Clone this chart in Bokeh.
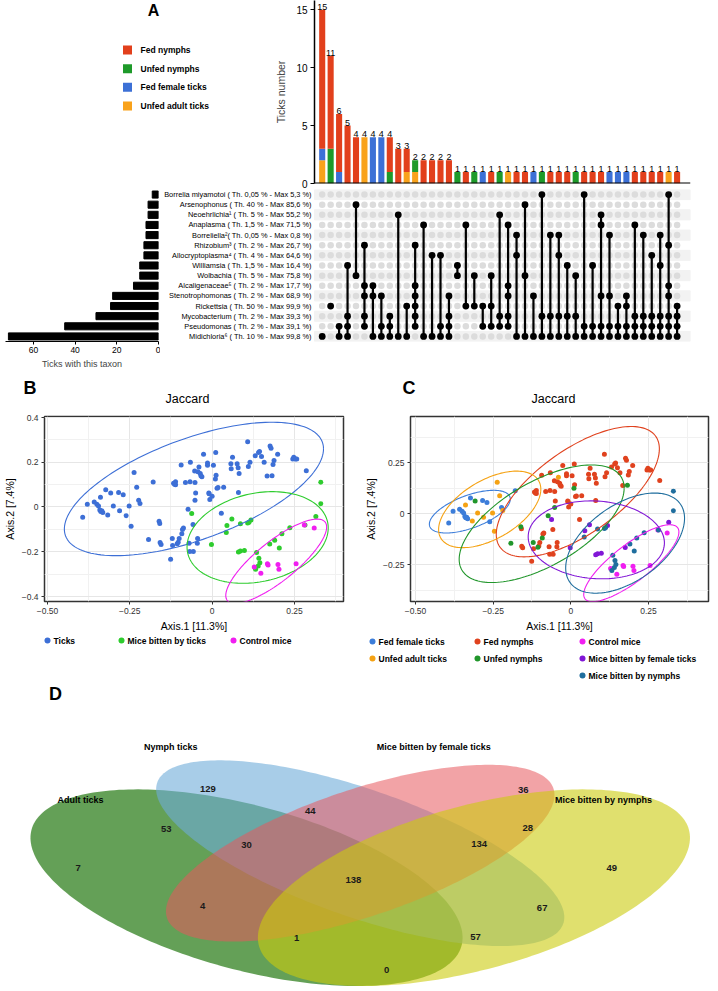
import numpy as np
from bokeh.plotting import figure
from bokeh.layouts import row, column
from bokeh.models import Range1d, FixedTicker, Span, ColumnDataSource
from bokeh.embed import file_html
from bokeh.resources import INLINE
from bokeh.core.properties import value

FONT = "Liberation Sans"

# ================= DATA =================
# ---- Panel A (UpSet) ----
legend_groups = ["Fed nymphs", "Unfed nymphs", "Fed female ticks", "Unfed adult ticks"]
legend_colors = ["#E2401C", "#1E9A2A", "#3C70D6", "#F9A21B"]

fed_nymphs   = [12, 8, 5, 5, 4, 0, 0, 0, 3, 3, 2, 0, 2, 2, 2, 2, 0, 1, 0, 0, 1, 0, 0, 1, 1, 0, 0, 1, 1, 1, 0, 1, 1, 1, 0, 0, 0, 1, 1, 1, 1, 0, 1]
unfed_nymphs = [0, 3, 0, 0, 0, 0, 0, 0, 1, 0, 0, 1, 0, 0, 0, 0, 1, 0, 1, 0, 0, 1, 0, 0, 0, 0, 1, 0, 0, 0, 1, 0, 0, 0, 0, 0, 0, 0, 0, 0, 0, 0, 0]
fed_female   = [1, 0, 1, 0, 0, 0, 4, 4, 0, 0, 0, 0, 0, 0, 0, 0, 0, 0, 0, 1, 0, 0, 0, 0, 0, 1, 0, 0, 0, 0, 0, 0, 0, 0, 1, 1, 1, 0, 0, 0, 0, 0, 0]
unfed_adult  = [2, 0, 0, 0, 0, 4, 0, 0, 0, 0, 1, 1, 0, 0, 0, 0, 0, 0, 0, 0, 0, 0, 1, 0, 0, 0, 0, 0, 0, 0, 0, 0, 0, 0, 0, 0, 0, 0, 0, 0, 0, 1, 0]

taxa = [
    "Borrelia miyamotoi ( Th. 0,05 % - Max 5,3 %)",
    "Arsenophonus ( Th. 40 % - Max 85,6 %)",
    "Neoehrlichia\u00b9 ( Th. 5 % - Max 55,2 %)",
    "Anaplasma ( Th. 1,5 % - Max 71,5 %)",
    "Borreliella\u00b2( Th. 0,05 % - Max 0,8 %)",
    "Rhizobium\u00b3 ( Th. 2 % - Max 26,7 %)",
    "Allocryptoplasma\u2074 ( Th. 4 % - Max 64,6 %)",
    "Williamsia ( Th. 1,5 % - Max 16,4 %)",
    "Wolbachia ( Th. 5 % - Max 75,8 %)",
    "Alcaligenaceae\u2075 ( Th. 2 % - Max 17,7 %)",
    "Stenotrophomonas ( Th. 2 % - Max 68,9 %)",
    "Rickettsia ( Th. 50 % - Max 99,9 %)",
    "Mycobacterium ( Th. 2 % - Max 39,3 %)",
    "Pseudomonas ( Th. 2 % - Max 39,1 %)",
    "Midichloria\u2076 ( Th. 10 % - Max 99,8 %)",
]
ticks_with_taxon = [3, 5, 5, 6, 6, 7, 7, 9, 9, 12, 22, 23, 30, 45, 72]

# taxa (row index, top = 0) present in each intersection column
intersections = [
    [14], [11], [13, 14], [7, 12, 13, 14], [1, 8], [5, 9, 10, 12, 13], [9, 10, 14], [10, 13, 14],
    [12, 13, 14], [2, 14], [11, 14], [5, 9, 10, 11, 12, 13], [3, 14], [6, 14], [6, 13, 14],
    [10, 12, 13, 14], [7, 8], [3, 11], [8, 11], [11, 13], [8, 11, 13], [2, 12, 13],
    [3, 9, 10, 12, 13], [4, 6, 14], [1, 8, 14], [10, 14], [0, 12, 14], [4, 12, 14],
    [4, 6, 12, 14], [7, 12, 14], [8, 12, 14], [0, 13, 14], [7, 13, 14], [2, 3, 10, 13, 14],
    [4, 10, 13, 14], [11, 13, 14], [10, 11, 13, 14], [3, 12, 13, 14], [4, 12, 13, 14],
    [6, 12, 13, 14], [4, 7, 12, 13, 14], [0, 5, 9, 10, 12, 13, 14], [11, 12, 13, 14],
]

# ---- Panels B / C (PCoA, Jaccard) ----
fed_female_x = [-0.393, -0.379, -0.358, -0.350, -0.345, -0.341, -0.338, -0.335, -0.332, -0.323, -0.284, -0.270, -0.261, -0.223, -0.179]
fed_female_y = [-0.046, 0.012, 0.022, 0.012, 0.004, -0.014, -0.020, -0.017, -0.025, 0.077, 0.065, 0.055, -0.039, 0.030, 0.112]

unfed_adult_x = [-0.339, -0.317, -0.300, -0.281, -0.252, -0.246, -0.237, -0.229, -0.219, -0.040]
unfed_adult_y = [0.043, -0.036, 0.004, -0.017, 0.004, -0.086, 0.154, 0.088, 0.016, 0.178]

unfed_nymphs_x = [-0.308, -0.193, -0.161, -0.121, -0.106, -0.092, -0.073, -0.052, 0.010, 0.182]
unfed_nymphs_y = [0.062, -0.145, -0.064, -0.141, -0.164, -0.119, -0.010, 0.030, 0.125, 0.139]

fed_nymphs_x = [-0.159, -0.158, -0.155, -0.126, -0.120, -0.117, -0.114, -0.111, -0.111, -0.103, -0.100, -0.094,
                -0.090, -0.087, -0.081, -0.070, -0.068, -0.067, -0.066, -0.058, -0.057, -0.053, -0.052, -0.050,
                -0.045, -0.044, -0.043, -0.036, -0.034, -0.031, -0.026, -0.014, -0.014, -0.010, -0.009, -0.007,
                0.000, 0.004, 0.012, 0.011, 0.015, 0.018, 0.028, 0.035, 0.057, 0.058, 0.062, 0.076, 0.079,
                0.080, 0.082, 0.108, 0.110, 0.115, 0.131, 0.141, 0.144, 0.150, 0.158, 0.167, 0.176, 0.179,
                0.185, 0.188, 0.199, 0.245, 0.248, 0.253, 0.257, 0.286]
fed_nymphs_y = [-0.074, -0.159, -0.167, -0.233, -0.172, 0.106, 0.101, 0.113, 0.099, -0.158, -0.141, 0.188,
                -0.100, -0.094, 0.109, -0.162, -0.199, 0.113, 0.200, -0.078, -0.199, 0.161, 0.109, 0.062,
                -0.162, -0.141, 0.157, 0.149, 0.139, 0.135, 0.236, 0.196, 0.186, 0.062, 0.059, 0.033,
                0.048, 0.186, 0.142, 0.243, 0.084, 0.087, -0.028, 0.088, 0.193, 0.171, 0.222, 0.193, 0.175,
                0.065, 0.149, 0.291, 0.181, 0.200, 0.229, 0.243, 0.248, 0.225, 0.200, 0.138, 0.272, 0.262,
                0.190, 0.207, 0.236, 0.214, 0.222, 0.214, 0.214, 0.162]

mice_female_x = [-0.062, -0.002, 0.045, 0.060, 0.118, 0.080, 0.086, 0.098, 0.175, 0.315]
mice_female_y = [-0.029, -0.167, -0.083, -0.054, -0.058, -0.201, -0.196, -0.194, -0.165, -0.042]

mice_nymphs_x = [0.043, 0.086, 0.108, 0.112, 0.135, 0.142, 0.145, 0.140, 0.132, 0.190, 0.204, 0.212, 0.236, 0.282, 0.330, 0.330]
mice_nymphs_y = [-0.114, -0.075, -0.072, -0.068, -0.203, -0.229, -0.249, -0.264, -0.278, -0.148, -0.183, -0.119, -0.093, -0.080, 0.014, 0.110]

control_mice_x = [0.128, 0.148, 0.168, 0.170, 0.200, 0.203, 0.255, 0.280, 0.310]
control_mice_y = [-0.268, -0.296, -0.254, -0.259, -0.257, -0.278, -0.254, -0.080, -0.094]

# ---- Panel D (Venn) ----
venn_sets = ["Adult ticks", "Nymph ticks", "Mice bitten by female ticks", "Mice bitten by nymphs"]
venn_counts = [7, 129, 36, 49, 53, 44, 28, 30, 134, 138, 4, 67, 1, 57, 0]

# ================= HELPERS =================
def blank(w, h, xr, yr, l=0, r=0, t=0, b=0, xaxis=None, yaxis=None):
    p = figure(width=w, height=h, x_range=xr, y_range=yr, output_backend="svg",
               toolbar_location=None, x_axis_location=xaxis, y_axis_location=yaxis,
               min_border_left=l, min_border_right=r, min_border_top=t, min_border_bottom=b)
    p.outline_line_color = None
    p.grid.visible = False
    p.background_fill_color = "white"
    p.border_fill_color = "white"
    return p


def txt(p, x, y, s, size, bold=False, align="left", baseline="middle", color="black"):
    p.text(x=x, y=y, text=s, text_font=value(FONT), text_font_size=size,
           text_font_style="bold" if bold else "normal", text_align=align,
           text_baseline=baseline, text_color=color)


def cov_trob(pts, nu=5, maxit=25, tol=0.01):
    n, d = pts.shape
    loc = pts.mean(axis=0)
    w = np.ones(n)
    X = pts - loc
    for _ in range(maxit):
        w0 = w
        X = pts - loc
        A = np.sqrt(w / w.sum())[:, None] * X
        _, sv, vt = np.linalg.svd(A, full_matrices=False)
        wX = X @ vt.T @ np.diag(1.0 / sv)
        Q = (wX ** 2).sum(axis=1)
        w = (nu + d) / (nu + Q)
        loc = (w[:, None] * pts).sum(axis=0) / w.sum()
        if np.all(np.abs(w - w0) < tol):
            break
    sw = np.sqrt(w)[:, None] * X
    return loc, sw.T @ sw / n


def conf_ellipse(x, y, level=0.95, segments=160):
    pts = np.column_stack([x, y]).astype(float)
    n = len(pts)
    center, shape = cov_trob(pts)
    dfd = n - 1
    fq = dfd / 2.0 * ((1 - level) ** (-2.0 / dfd) - 1)
    radius = np.sqrt(2 * fq)
    ang = np.linspace(0, 2 * np.pi, segments)
    circle = np.column_stack([np.cos(ang), np.sin(ang)])
    chol = np.linalg.cholesky(shape).T
    ell = center + radius * circle @ chol
    return list(ell[:, 0]), list(ell[:, 1])


def style_axis(ax, size="9px", color="#222222"):
    ax.major_label_text_font = FONT
    ax.major_label_text_font_size = size
    ax.major_label_text_color = color
    ax.axis_label_text_font = FONT
    ax.axis_label_text_font_style = "normal"
    ax.minor_tick_line_color = None


# ================= PANEL A =================
ncol = len(fed_nymphs)
cols = list(range(ncol))
XR_BAR = (-0.911, 43.586)

# legend + letter
legA = blank(270, 189, Range1d(0, 270), Range1d(189, 0))
txt(legA, [153], [10], ["A"], "16px", bold=True, align="center")
legA.scatter(x=[127] * 4, y=[51, 70.5, 89.7, 109], marker="square", size=9, color=legend_colors, line_color=None)
txt(legA, [140] * 4, [51, 70.5, 89.7, 109], legend_groups, "8.5px", bold=True)

# intersection size bar chart
barA = blank(448, 189, Range1d(*XR_BAR), Range1d(0, 15.8), l=44, r=28, t=0, b=6, yaxis="left")
src = ColumnDataSource(dict(x=cols, ua=unfed_adult, ff=fed_female, un=unfed_nymphs, fn=fed_nymphs))
barA.vbar_stack(["ua", "ff", "un", "fn"], x="x", width=0.72, source=src,
                color=[legend_colors[3], legend_colors[2], legend_colors[1], legend_colors[0]], line_color=None)
totals = [a + b + c + d for a, b, c, d in zip(fed_nymphs, unfed_nymphs, fed_female, unfed_adult)]
txt(barA, cols, totals, [str(t) for t in totals], "9px", align="center", baseline="bottom")
barA.add_layout(Span(location=0, dimension="width", line_color="black", line_width=2))
ya = barA.yaxis[0]
ya.ticker = FixedTicker(ticks=[0, 5, 10, 15])
ya.axis_label = "Ticks number"
style_axis(ya, "10px", "black")
ya.axis_label_text_font_size = "10.5px"
ya.axis_line_width = 1.5
ya.major_tick_out = 4
ya.major_tick_in = 0
ya.major_label_standoff = 3
ya.axis_label_standoff = 6

# left bar chart: ticks with this taxon
rows_y = [14 - i for i in range(len(taxa))]
leftA = blank(160, 183, Range1d(73.4, 0), Range1d(-0.5, 14.5), l=5, r=2, t=0, b=31, xaxis="below")
leftA.hbar(y=rows_y, left=0, right=ticks_with_taxon, height=0.7, color="black")
xa = leftA.xaxis[0]
xa.ticker = FixedTicker(ticks=[0, 20, 40, 60])
xa.axis_label = "Ticks with this taxon"
style_axis(xa, "8.5px", "black")
xa.axis_label_text_font_size = "9px"
xa.major_tick_out = 3
xa.major_tick_in = 0
xa.major_label_standoff = 2
xa.axis_label_standoff = 3

# matrix
matA = blank(558, 183, Range1d(-18.9, 43.586), Range1d(-0.5, 14.5), l=2, r=28, t=0, b=31)
stripe_rows = [14 - i for i in range(0, len(taxa), 2)]
matA.hbar(y=stripe_rows, left=XR_BAR[0], right=XR_BAR[1], height=1, color="#f2f2f2")
gx, gy = [], []
for c in cols:
    for r in rows_y:
        gx.append(c)
        gy.append(r)
matA.scatter(x=gx, y=gy, size=6.5, color="#dcdcdc", line_color=None)
ax_, ay_, sx0, sy0, sy1 = [], [], [], [], []
for c, members in enumerate(intersections):
    ys = [14 - m for m in members]
    for yv in ys:
        ax_.append(c)
        ay_.append(yv)
    if len(ys) > 1:
        sx0.append(c)
        sy0.append(min(ys))
        sy1.append(max(ys))
matA.segment(x0=sx0, y0=sy0, x1=sx0, y1=sy1, line_color="black", line_width=2.2)
matA.scatter(x=ax_, y=ay_, size=6.8, color="black", line_color=None)
txt(matA, [-1.25] * len(taxa), rows_y, taxa, "7.4px", align="right")

# ================= PANELS B / C =================
hdr = blank(718, 42, Range1d(0, 718), Range1d(42, 0))
txt(hdr, [23, 402], [15, 15], ["B", "C"], "18px", bold=True)
txt(hdr, [187, 553], [26, 26], ["Jaccard", "Jaccard"], "12.5px", align="center")


def pcoa_fig(w, h, xr, yr, l, r, t, b, yt, yl, ym):
    p = figure(width=w, height=h, x_range=Range1d(*xr), y_range=Range1d(*yr), output_backend="svg",
               toolbar_location=None, min_border_left=l, min_border_right=r,
               min_border_top=t, min_border_bottom=b)
    p.background_fill_color = "white"
    p.border_fill_color = "white"
    p.outline_line_color = "#333333"
    p.outline_line_width = 1.5
    p.xaxis.ticker = FixedTicker(ticks=[-0.5, -0.25, 0, 0.25], minor_ticks=[-0.375, -0.125, 0.125, 0.375])
    p.xaxis.major_label_overrides = {-0.5: "\u22120.50", -0.25: "\u22120.25", 0: "0", 0.25: "0.25"}
    p.yaxis.ticker = FixedTicker(ticks=yt, minor_ticks=ym)
    p.yaxis.major_label_overrides = dict(zip(yt, yl))
    p.xaxis.axis_label = "Axis.1 [11.3%]"
    p.yaxis.axis_label = "Axis.2 [7.4%]"
    for ax in (p.xaxis[0], p.yaxis[0]):
        style_axis(ax, "8.5px", "#333333")
        ax.axis_label_text_font_size = "10.5px"
        ax.axis_label_text_color = "black"
        ax.axis_line_color = None
        ax.major_tick_line_color = "#333333"
        ax.major_tick_out = 3
        ax.major_tick_in = 0
        ax.major_label_standoff = 2
        ax.axis_label_standoff = 3
    p.grid.grid_line_color = "#e6e6e6"
    p.grid.minor_grid_line_color = "#f1f1f1"
    return p


B_COL = {"Ticks": "#3D6FD6", "Mice bitten by ticks": "#2ECC2E", "Control mice": "#F01EF0"}
ticks_x = fed_female_x + unfed_adult_x + unfed_nymphs_x + fed_nymphs_x
ticks_y = fed_female_y + unfed_adult_y + unfed_nymphs_y + fed_nymphs_y
micet_x = mice_female_x + mice_nymphs_x
micet_y = mice_female_y + mice_nymphs_y
b_groups = [("Ticks", ticks_x, ticks_y), ("Mice bitten by ticks", micet_x, micet_y),
            ("Control mice", control_mice_x, control_mice_y)]

pB = pcoa_fig(355, 220, (-0.509, 0.399), (-0.422, 0.404), 40, 12, 2, 28,
              [-0.4, -0.2, 0, 0.2, 0.4], ["\u22120.4", "\u22120.2", "0", "0.2", "0.4"], [-0.3, -0.1, 0.1, 0.3])
for name, gx_, gy_ in b_groups:
    pB.scatter(x=gx_, y=gy_, size=5, color=B_COL[name], line_color=None)
for name, gx_, gy_ in b_groups:
    ex, ey = conf_ellipse(gx_, gy_)
    pB.line(ex, ey, line_color=B_COL[name], line_width=1.1)

C_COL = {"Fed female ticks": "#3C7DD9", "Fed nymphs": "#E0421E", "Control mice": "#F01EF0",
         "Unfed adult ticks": "#F5A213", "Unfed nymphs": "#21962B",
         "Mice bitten by female ticks": "#8117D6", "Mice bitten by nymphs": "#1F6E9E"}
c_groups = [("Fed female ticks", fed_female_x, fed_female_y),
            ("Fed nymphs", fed_nymphs_x, fed_nymphs_y),
            ("Control mice", control_mice_x, control_mice_y),
            ("Unfed adult ticks", unfed_adult_x, unfed_adult_y),
            ("Unfed nymphs", unfed_nymphs_x, unfed_nymphs_y),
            ("Mice bitten by female ticks", mice_female_x, mice_female_y),
            ("Mice bitten by nymphs", mice_nymphs_x, mice_nymphs_y)]

pC = pcoa_fig(363, 220, (-0.516, 0.443), (-0.430, 0.476), 55, 10, 0, 28,
              [-0.25, 0, 0.25], ["\u22120.25", "0", "0.25"], [-0.375, -0.125, 0.125, 0.375])
for name, gx_, gy_ in c_groups:
    pC.scatter(x=gx_, y=gy_, size=5, color=C_COL[name], line_color=None)
for name, gx_, gy_ in c_groups:
    ex, ey = conf_ellipse(gx_, gy_)
    pC.line(ex, ey, line_color=C_COL[name], line_width=1.1)

# legends
legBC = blank(718, 49, Range1d(0, 718), Range1d(49, 0))
b_names = [g[0] for g in b_groups]
bx = [47, 121, 233]
legBC.scatter(x=bx, y=[6] * 3, size=6, color=[B_COL[n] for n in b_names], line_color=None)
txt(legBC, [v + 6 for v in bx], [6] * 3, b_names, "8.5px", bold=True)
c_names = [g[0] for g in c_groups]
cx = [372, 477, 582, 372, 477, 582, 582]
cy = [7, 7, 7, 24, 24, 24, 41]
legBC.scatter(x=cx, y=cy, size=6, color=[C_COL[n] for n in c_names], line_color=None)
txt(legBC, [v + 6 for v in cx], cy, c_names, "8.5px", bold=True)

# ================= PANEL D =================
pD = blank(718, 308, Range1d(0.0254, 0.9727), Range1d(0.169, 1.062))
venn_geom = [((0.35, 0.47), (0.35, 0.20), 135), ((0.50, 0.57), (0.35, 0.15), 135),
             ((0.50, 0.57), (0.33, 0.15), 45), ((0.65, 0.47), (0.35, 0.20), 45)]
venn_fill = ["#30801F", "#6EACD9", "#E7585D", "#CBCB0D"]
venn_alpha = [0.75, 0.6, 0.55, 0.6]
phi = np.linspace(0, 2 * np.pi, 240)
for (cxy, ab, ang), fc, fa in zip(venn_geom, venn_fill, venn_alpha):
    t = np.radians(ang)
    ex = cxy[0] + ab[0] * np.cos(phi) * np.cos(t) - ab[1] * np.sin(phi) * np.sin(t)
    ey = cxy[1] + ab[0] * np.cos(phi) * np.sin(t) + ab[1] * np.sin(phi) * np.cos(t)
    pD.patch(list(ex), list(ey), fill_color=fc, fill_alpha=fa, line_color=None)

set_label_pos = [(0.131, 0.723), (0.250, 0.877), (0.597, 0.877), (0.821, 0.723)]
txt(pD, [q[0] for q in set_label_pos], [q[1] for q in set_label_pos], venn_sets, "9px", bold=True, align="center")
count_pos = [(0.128, 0.526), (0.299, 0.755), (0.715, 0.752), (0.832, 0.526), (0.244, 0.639),
             (0.434, 0.691), (0.721, 0.642), (0.350, 0.593), (0.657, 0.598), (0.491, 0.491),
             (0.292, 0.416), (0.740, 0.410), (0.416, 0.323), (0.652, 0.326), (0.535, 0.230)]
txt(pD, [q[0] for q in count_pos], [q[1] for q in count_pos], [str(v) for v in venn_counts],
    "9.5px", bold=True, align="center", color="#1a1a1a")
txt(pD, [0.098], [1.033], ["D"], "18px", bold=True, align="center")

layout = column(
    row(legA, barA),
    row(leftA, matA),
    hdr,
    row(pB, pC),
    legBC,
    pD,
)

open("out.html", "w").write(file_html(layout, INLINE))
